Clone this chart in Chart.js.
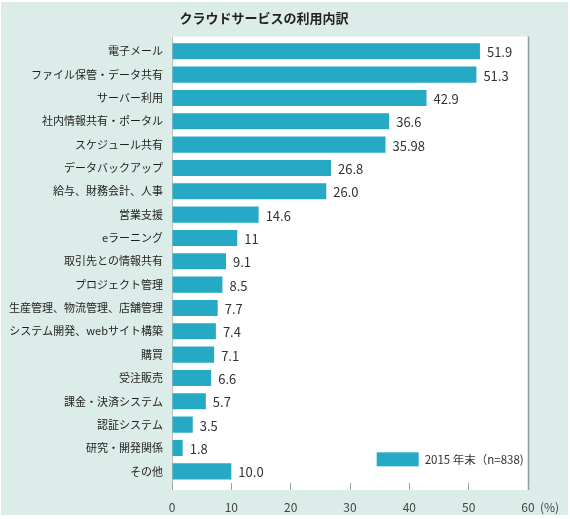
<!DOCTYPE html>
<html>
<head>
<meta charset="utf-8">
<script src="https://cdn.jsdelivr.net/npm/chart.js@4.4.1/dist/chart.umd.min.js"></script>
<style>
  html, body { margin: 0; padding: 0; background: #ffffff; }
  #wrap { width: 570px; height: 519px; position: relative; }
</style>
</head>
<body>
<div id="wrap"><canvas id="cloudUsageChart" width="570" height="519"></canvas></div>
<script>
const chartTitle = 'クラウドサービスの利用内訳';
const legendLabel = '2015 年末（n=838)';
const categories = [
  '電子メール', 'ファイル保管・データ共有', 'サーバー利用', '社内情報共有・ポータル',
  'スケジュール共有', 'データバックアップ', '給与、財務会計、人事', '営業支援',
  'eラーニング', '取引先との情報共有', 'プロジェクト管理', '生産管理、物流管理、店舗管理',
  'システム開発、webサイト構築', '購買', '受注販売', '課金・決済システム',
  '認証システム', '研究・開発関係', 'その他'
];
const usageValues = [51.9, 51.3, 42.9, 36.6, 35.98, 26.8, 26.0, 14.6, 11, 9.1, 8.5, 7.7, 7.4, 7.1, 6.6, 5.7, 3.5, 1.8, 10.0];
const valueLabels = ['51.9', '51.3', '42.9', '36.6', '35.98', '26.8', '26.0', '14.6', '11', '9.1', '8.5', '7.7', '7.4', '7.1', '6.6', '5.7', '3.5', '1.8', '10.0'];
const xTicks = [0, 10, 20, 30, 40, 50, 60];
const xUnit = '(%)';

const barColor = '#25a9c4';
const panelColor = '#dcece9';
const fontFamily = "'Noto Sans CJK JP', 'Noto Sans', sans-serif";

// background panel + white plot area + frame lines
const panelPlugin = {
  id: 'panel',
  beforeDraw(chart) {
    const { ctx, chartArea } = chart;
    ctx.save();
    ctx.fillStyle = '#ffffff';
    ctx.fillRect(0, 0, chart.width, chart.height);
    ctx.fillStyle = panelColor;
    ctx.fillRect(1, 2, 567, 513);
    ctx.fillStyle = '#ffffff';
    ctx.fillRect(chartArea.left, chartArea.top - 3, chartArea.right - chartArea.left, chartArea.bottom - chartArea.top + 10);
    ctx.strokeStyle = '#b9c2c0';
    ctx.lineWidth = 1;
    ctx.beginPath();
    ctx.moveTo(chartArea.left + 0.5, chartArea.top - 3);
    ctx.lineTo(chartArea.left + 0.5, chartArea.bottom + 7);
    ctx.stroke();
    ctx.strokeStyle = '#8f9a98';
    ctx.lineWidth = 1.5;
    ctx.beginPath();
    ctx.moveTo(chartArea.right + 0.5, chartArea.top - 3);
    ctx.lineTo(chartArea.right + 0.5, chartArea.bottom + 7);
    ctx.stroke();
    ctx.restore();
  }
};

// value labels, legend and unit
const labelPlugin = {
  id: 'valueLabels',
  afterDatasetsDraw(chart) {
    const { ctx } = chart;
    const meta = chart.getDatasetMeta(0);
    ctx.save();
    ctx.font = '13px ' + fontFamily;
    ctx.fillStyle = '#333333';
    ctx.textAlign = 'left';
    ctx.textBaseline = 'middle';
    meta.data.forEach((bar, i) => {
      ctx.fillText(valueLabels[i], bar.x + 7, bar.y + 1);
    });

    // legend inside plot area
    const xScale = chart.scales.x;
    const lx = xScale.getPixelForValue(34.5);
    const ly = chart.scales.y.getPixelForValue(categories.length - 1) - 12;
    ctx.fillStyle = barColor;
    ctx.fillRect(lx, ly - 7, 42, 14);
    ctx.fillStyle = '#333333';
    ctx.font = '11.5px ' + fontFamily;
    ctx.fillText(legendLabel, lx + 48, ly);

    // unit after last tick
    ctx.font = '12px ' + fontFamily;
    ctx.fillStyle = '#444444';
    ctx.fillText(xUnit, xScale.getPixelForValue(60) + 12, 507);
    ctx.restore();
  }
};

new Chart(document.getElementById('cloudUsageChart').getContext('2d'), {
  type: 'bar',
  data: {
    labels: categories,
    datasets: [{
      label: legendLabel,
      data: usageValues,
      backgroundColor: barColor,
      borderWidth: 0,
      barPercentage: 1,
      categoryPercentage: 0.69
    }]
  },
  options: {
    indexAxis: 'y',
    responsive: false,
    animation: false,
    layout: { padding: { top: 0, right: 42, bottom: 0, left: 0 } },
    plugins: {
      legend: { display: false },
      tooltip: { enabled: false },
      title: {
        display: true,
        text: chartTitle,
        color: '#222222',
        font: { family: fontFamily, size: 13, weight: 'bold' },
        padding: { top: 10, bottom: 14 }
      }
    },
    scales: {
      x: {
        min: 0,
        max: 60,
        afterFit(scale) { scale.height = 36; },
        afterBuildTicks(scale) { scale.ticks = xTicks.map(v => ({ value: v })); },
        border: { display: false },
        grid: { drawOnChartArea: false, drawTicks: true, tickLength: 7, color: '#9aa3a1' },
        ticks: {
          padding: 10,
          color: '#444444',
          font: { family: fontFamily, size: 12 },
          maxRotation: 0
        }
      },
      y: {
        afterFit(scale) { scale.width = 172; },
        border: { display: false },
        grid: { display: false, drawTicks: false },
        ticks: {
          padding: 9,
          color: '#1e1e1e',
          autoSkip: false,
          font: { family: fontFamily, size: 11 }
        }
      }
    }
  },
  plugins: [panelPlugin, labelPlugin]
});
</script>
</body>
</html>
